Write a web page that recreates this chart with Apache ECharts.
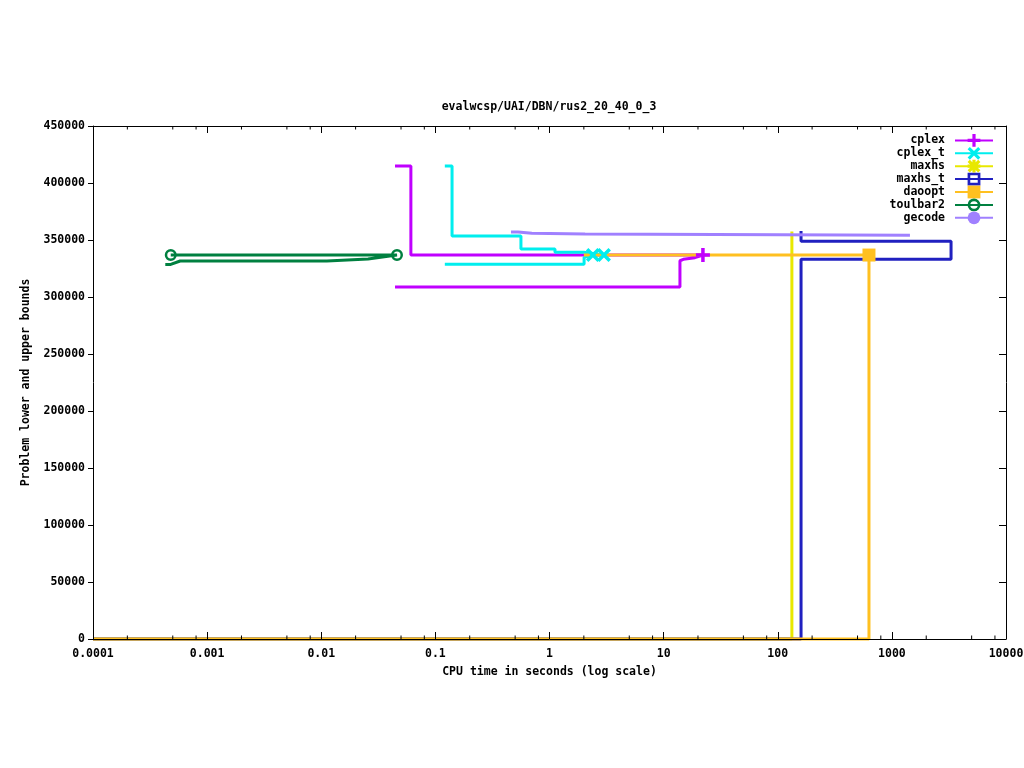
<!DOCTYPE html>
<html>
<head>
<meta charset="utf-8">
<script src="https://cdn.jsdelivr.net/npm/echarts@6/dist/echarts.min.js"></script>
<style>html,body{margin:0;padding:0;background:#fff}#c{width:1024px;height:768px}</style>
</head>
<body>
<div id="c"></div>
<script>
// ---- data ----
const chartTitle = 'evalwcsp/UAI/DBN/rus2_20_40_0_3';
const xTitle = 'CPU time in seconds (log scale)';
const yTitle = 'Problem lower and upper bounds';
const xTickLabels = ['0.0001','0.001','0.01','0.1','1','10','100','1000','10000'];
const xMinorTicks = [2,5,8];
const seriesNames = ['cplex','cplex_t','maxhs','maxhs_t','daoopt','toulbar2','gecode'];

const cplexX = [0.0443, 0.061, 0.061, 22.1, 22.1, 20.8, 18.8, 14.9, 13.9, 13.9, 0.0443];
const cplexY = [415000, 415000, 336800, 336800, 336800, 336000, 334500, 333100, 331800, 308800, 308800];
const cplexMarks = [3];

const cplexTX = [0.121, 0.140, 0.140, 0.562, 0.562, 1.117, 1.117, 2.0, 3.0, 2.4, 2.01, 2.01, 0.121];
const cplexTY = [415000, 415000, 353500, 353500, 342000, 342000, 339300, 339300, 336800, 336800, 334800, 328700, 328700];
const cplexTMarks = [8, 9];

const maxhsX = [0.0001, 133, 133];
const maxhsY = [0, 0, 357500];
const maxhsMarks = [];

const maxhsTX = [160, 160, 3300, 3300, 160, 160, 0.0001];
const maxhsTY = [357900, 348900, 348900, 333100, 333100, 0, 0];
const maxhsTMarks = [];

const daooptX = [2.0, 630, 630, 0.0001];
const daooptY = [336800, 336800, 0, 0];
const daooptMarks = [1];

const toulbarX = [0.00043, 0.00048, 0.00058, 0.0112, 0.0112, 0.0257, 0.0257, 0.0461, 0.0461, 0.00048];
const toulbarY = [328600, 328600, 331600, 331600, 333300, 333300, 334800, 336800, 336800, 336800];
const toulbarMarks = [8, 9];

const gecodeX = [0.46, 0.53, 0.53, 0.70, 0.70, 2.05, 2.05, 1440];
const gecodeY = [357000, 357000, 355900, 355900, 355300, 355300, 354100, 354100];
const gecodeMarks = [];

// ---- styles ----
const FONT = 'DejaVu Sans Mono';
const colors = ['#c000ff','#00eeee','#e8e800','#2020c0','#ffc020','#008040','#a080ff'];
const PLUS = 'M4.5,0H7.5V4.5H12V7.5H7.5V12H4.5V7.5H0V4.5H4.5Z';
const CROSS = 'M0,2.1L2.1,0L6,3.9L9.9,0L12,2.1L8.1,6L12,9.9L9.9,12L6,8.1L2.1,12L0,9.9L3.9,6Z';
const symbols = [
  'path://' + PLUS,
  'path://' + CROSS,
  'path://' + PLUS + ' ' + CROSS,
  'path://M0,0H12V12H0Z M2.5,2.5V9.5H9.5V2.5Z',
  'rect',
  'path://M6,0A6,6 0 1 1 5.99,0Z M6,2.5A3.5,3.5 0 1 0 6.01,2.5Z',
  'circle'
];
const symSizes = [14, 14, 14, 13, 13, 12, 12];
const allX = [cplexX, cplexTX, maxhsX, maxhsTX, daooptX, toulbarX, gecodeX];
const allY = [cplexY, cplexTY, maxhsY, maxhsTY, daooptY, toulbarY, gecodeY];
const allMarks = [cplexMarks, cplexTMarks, maxhsMarks, maxhsTMarks, daooptMarks, toulbarMarks, gecodeMarks];

const YMAX = 450000;
const lineSeries = seriesNames.map((n, k) => ({
  type: 'line', name: n,
  data: allX[k].map((x, i) => ({ value: [x, allY[k][i]], symbol: 'none' })),
  symbol: symbols[k], symbolSize: symSizes[k], showSymbol: true,
  lineStyle: { color: colors[k], width: 3 },
  itemStyle: { color: colors[k] },
  clip: false, animation: false, z: 2 + k * 0.01,
  emphasis: { disabled: true }
}));
const markSeries = seriesNames.map((n, k) => ({
  type: 'scatter', name: n + '_pts',
  data: allMarks[k].map(i => [allX[k][i], allY[k][i]]),
  symbol: symbols[k], symbolSize: symSizes[k],
  itemStyle: { color: colors[k], opacity: 1 },
  clip: false, animation: false, silent: true, z: 10 + k * 0.01
}));

const minorData = [];
for (let e = -4; e < 4; e++) xMinorTicks.forEach(m => minorData.push([m * Math.pow(10, e), 0]));
const minorSeries = {
  type: 'custom', name: '_minor', data: minorData, silent: true, clip: false, z: 20,
  renderItem: (params, api) => {
    const p = api.coord([api.value(0), 0]);
    const q = api.coord([api.value(0), YMAX]);
    return { type: 'group', children: [
      { type: 'line', shape: { x1: p[0], y1: p[1], x2: p[0], y2: p[1] - 3.5 }, style: { stroke: '#000', lineWidth: 1 } },
      { type: 'line', shape: { x1: q[0], y1: q[1], x2: q[0], y2: q[1] + 3.5 }, style: { stroke: '#000', lineWidth: 1 } }
    ]};
  }
};

const legends = seriesNames.map((n, i) => ({
  data: [n], orient: 'vertical', align: 'right', right: 30, top: 134 + i * 12.9,
  itemWidth: 38, itemHeight: 16, padding: 0, itemGap: 0, selectedMode: false,
  textStyle: { fontFamily: FONT, fontSize: 11.5, fontWeight: 'bold', color: '#000', padding: [0, 5, 0, 0] }
}));

const labelFmt = v => xTickLabels[Math.round(Math.log10(v)) + 4] || '';
const axisText = { fontFamily: FONT, fontSize: 11.5, fontWeight: 'bold', color: '#000' };

const option = {
  backgroundColor: '#fff',
  animation: false,
  title: { text: chartTitle, left: 544, top: 96, textAlign: 'center',
    textStyle: { fontFamily: FONT, fontSize: 11.5, fontWeight: 'bold', color: '#000' } },
  legend: legends,
  grid: { left: 93, right: 18, top: 126, bottom: 129, show: false, containLabel: false, outerBoundsMode: 'none' },
  xAxis: [
    { type: 'log', logBase: 10, min: 0.0001, max: 10000, splitNumber: 8, position: 'bottom', z: 30,
      name: xTitle, nameLocation: 'middle', nameGap: 27, nameTextStyle: axisText,
      axisLine: { show: true, lineStyle: { color: '#000', width: 1 } },
      axisTick: { show: true, inside: true, length: 7, lineStyle: { color: '#000' } },
      axisLabel: { ...axisText, margin: 9, formatter: labelFmt },
      splitLine: { show: false }, minorTick: { show: false } },
    { type: 'log', logBase: 10, min: 0.0001, max: 10000, splitNumber: 8, position: 'top', z: 30,
      axisLine: { show: true, onZero: false, lineStyle: { color: '#000', width: 1 } },
      axisTick: { show: true, inside: true, length: 7, lineStyle: { color: '#000' } },
      axisLabel: { show: false }, splitLine: { show: false } }
  ],
  yAxis: [
    { type: 'value', min: 0, max: YMAX, interval: 50000, position: 'left', z: 30,
      name: yTitle, nameLocation: 'middle', nameGap: 61, nameRotate: 90, nameTextStyle: axisText,
      axisLine: { show: true, onZero: false, lineStyle: { color: '#000', width: 1 } },
      axisTick: { show: true, inside: false, length: 5, lineStyle: { color: '#000' } },
      axisLabel: { ...axisText, margin: 8, formatter: v => String(v) },
      splitLine: { show: false } },
    { type: 'value', min: 0, max: YMAX, interval: 50000, position: 'right', z: 30,
      axisLine: { show: true, onZero: false, lineStyle: { color: '#000', width: 1 } },
      axisTick: { show: true, inside: true, length: 7, lineStyle: { color: '#000' } },
      axisLabel: { show: false }, splitLine: { show: false } }
  ],
  series: [...lineSeries, ...markSeries, minorSeries]
};

const chart = echarts.init(document.getElementById('c'), null, { renderer: 'canvas' });
chart.setOption(option);
</script>
</body>
</html>
